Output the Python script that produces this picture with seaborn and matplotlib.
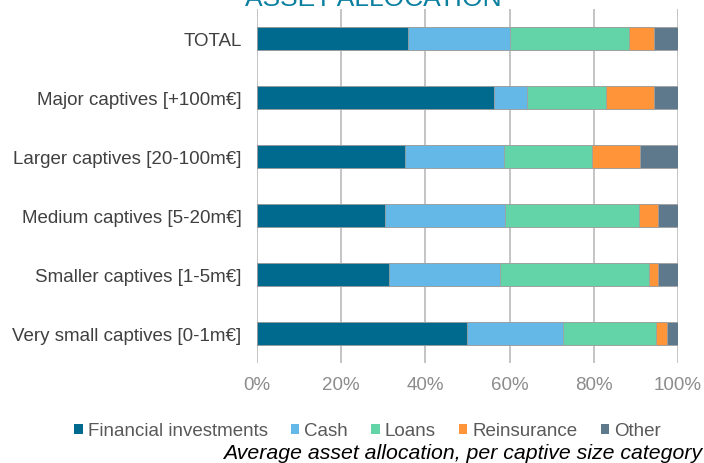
import numpy as np
import pandas as pd
import matplotlib.pyplot as plt
import seaborn as sns
from matplotlib.patches import Patch

# ============================================================
# Data (percent of total assets)
# ============================================================

categories = [
    "TOTAL",
    "Major captives [+100m€]",
    "Larger captives [20-100m€]",
    "Medium captives [5-20m€]",
    "Smaller captives [1-5m€]",
    "Very small captives [0-1m€]",
]

financial = [35.8, 56.2, 35.2, 30.3, 31.3, 49.8]
cash = [24.4, 8.0, 23.5, 28.7, 26.4, 22.9]
loans = [28.1, 18.8, 20.8, 31.7, 35.5, 22.2]
reinsurance = [6.1, 11.4, 11.5, 4.5, 2.0, 2.5]
other = [5.6, 5.6, 9.0, 4.8, 4.8, 2.6]

series_names = ["Financial investments", "Cash", "Loans", "Reinsurance", "Other"]
colors = ["#006a8e", "#63b8e8", "#63d4a8", "#ff9438", "#5e798c"]

# ============================================================
# Build stacked table
# ============================================================

df = pd.DataFrame(
    {
        "category": categories,
        "Financial investments": financial,
        "Cash": cash,
        "Loans": loans,
        "Reinsurance": reinsurance,
        "Other": other,
    }
)

cum = df[series_names].cumsum(axis=1)
cum["category"] = df["category"]

sns.set_theme(style="white")
plt.rcParams["font.family"] = ["Liberation Sans", "DejaVu Sans"]

fig = plt.figure(figsize=(7.04, 4.64), dpi=100)
ax = fig.add_axes([0.365, 0.215, 0.598, 0.763])

# draw from the outermost segment inward so each stack shows its parts
for name, color in reversed(list(zip(series_names, colors))):
    sns.barplot(
        data=cum,
        x=name,
        y="category",
        order=categories,
        color=color,
        width=0.39,
        edgecolor="#a0a0a0",
        linewidth=0.6,
        saturation=1,
        ax=ax,
    )

ax.set_xlim(0, 100)
ax.set_ylim(len(categories) - 0.5, -0.5)
ax.set_xticks(np.arange(0, 101, 20))
ax.set_xticklabels([f"{v}%" for v in range(0, 101, 20)])
ax.grid(axis="x", color="#c4c4c4", linewidth=1.4)
ax.set_axisbelow(True)
for s in ax.spines.values():
    s.set_visible(False)

ax.set_xlabel("")
ax.set_ylabel("")
ax.tick_params(axis="x", colors="#8c8c8c", labelsize=13.5, length=0, pad=9)
ax.tick_params(axis="y", colors="#404040", labelsize=13.5, length=0, pad=11)

handles = [Patch(facecolor=c, edgecolor="none") for c in colors]
fig.legend(
    handles,
    series_names,
    loc="center",
    bbox_to_anchor=(0.522, 0.069),
    ncol=5,
    frameon=False,
    fontsize=13.5,
    labelcolor="#595959",
    handlelength=0.45,
    handleheight=0.45,
    handletextpad=0.25,
    columnspacing=1.25,
)

fig.text(
    0.53, 0.987, "ASSET ALLOCATION",
    ha="center", va="baseline", fontsize=19, color="#0a7fa0",
)
fig.text(
    0.998, 0.002, "Average asset allocation, per captive size category",
    ha="right", va="bottom", fontsize=15.3, style="italic", color="black",
)

fig.savefig("out.png", dpi=100)
